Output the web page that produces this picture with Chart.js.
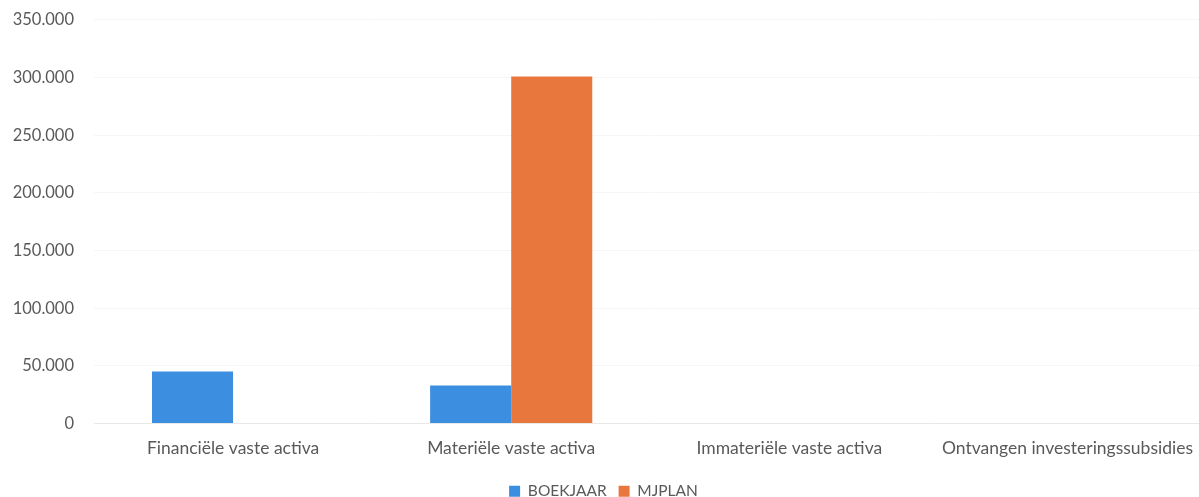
<!DOCTYPE html>
<html>
<head>
<meta charset="utf-8">
<script src="https://cdn.jsdelivr.net/npm/chart.js@4/dist/chart.umd.min.js"></script>
<style>
  html, body { margin: 0; padding: 0; background: #fff; overflow: hidden; }
  #wrap { position: relative; width: 1207px; height: 497px; }
</style>
</head>
<body>
<div id="wrap"><canvas id="chart"></canvas></div>
<script>
// categories and values
const categories = [
  'Financiële vaste activa',
  'Materiële vaste activa',
  'Immateriële vaste activa',
  'Ontvangen investeringssubsidies',
];
const boekjaar = [45000, 33000, 0, 0];
const mjplan = [0, 301000, 0, 0];
const yTicks = [0, 50000, 100000, 150000, 200000, 250000, 300000, 350000];

const textColor = '#595959';
const fontFamily = 'Lato, "Open Sans", sans-serif';

// dutch thousands separator
const fmt = (v) => String(v).replace(/\B(?=(\d{3})+(?!\d))/g, '.');

const ctx = document.getElementById('chart').getContext('2d');
new Chart(ctx, {
  type: 'bar',
  data: {
    labels: categories,
    datasets: [
      {
        label: 'BOEKJAAR',
        data: boekjaar,
        backgroundColor: '#3b8ee0',
        categoryPercentage: 0.583,
        barPercentage: 1.0,
      },
      {
        label: 'MJPLAN',
        data: mjplan,
        backgroundColor: '#e8773d',
        categoryPercentage: 0.583,
        barPercentage: 1.0,
      },
    ],
  },
  options: {
    responsive: true,
    maintainAspectRatio: false,
    animation: false,
    layout: { padding: { top: 0, left: 0, right: 0, bottom: -12 } },
    plugins: {
      legend: {
        position: 'bottom',
        labels: {
          color: textColor,
          font: { family: fontFamily, size: 15.5 },
          boxWidth: 11,
          boxHeight: 11,
          padding: 12,
        },
      },
      tooltip: { enabled: false },
    },
    scales: {
      x: {
        grid: { display: false, drawTicks: false },
        border: { color: 'rgba(0,0,0,0.06)' },
        afterFit: (axis) => {
          axis.height = 48;
        },
        ticks: {
          color: textColor,
          font: { family: fontFamily, size: 17.5 },
          maxRotation: 0,
          autoSkip: false,
          padding: 14,
        },
      },
      y: {
        min: 0,
        max: 350000,
        afterBuildTicks: (axis) => {
          axis.ticks = yTicks.map((v) => ({ value: v }));
        },
        afterFit: (axis) => {
          axis.width = 94;
        },
        grid: {
          color: 'rgba(0,0,0,0.035)',
          drawTicks: true,
          tickLength: 10,
          tickColor: 'rgba(0,0,0,0)',
        },
        border: { display: false },
        ticks: {
          color: textColor,
          font: { family: fontFamily, size: 16.5 },
          padding: 10,
          callback: (v) => fmt(v),
        },
      },
    },
  },
});
</script>
</body>
</html>
